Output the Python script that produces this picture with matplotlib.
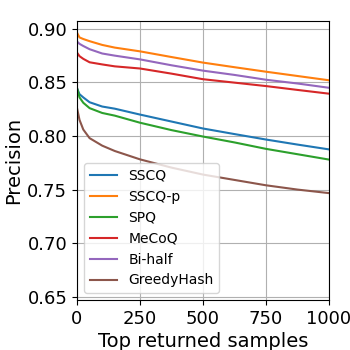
import matplotlib
matplotlib.use("Agg")
from matplotlib import pyplot as plt

# values
top_k = [1, 10, 25, 50, 100, 150, 250, 375, 500, 625, 750, 875, 1000]
sscq = [0.844, 0.839, 0.836, 0.8315, 0.8275, 0.8255, 0.820, 0.8135, 0.807, 0.8018, 0.7967, 0.792, 0.7875]
sscq_p = [0.896, 0.892, 0.8905, 0.8885, 0.885, 0.8825, 0.879, 0.8737, 0.8685, 0.8642, 0.860, 0.856, 0.852]
spq = [0.844, 0.836, 0.831, 0.826, 0.8215, 0.819, 0.8124, 0.8055, 0.7995, 0.794, 0.788, 0.783, 0.778]
mecoq = [0.8775, 0.8745, 0.872, 0.8688, 0.8668, 0.865, 0.863, 0.8582, 0.853, 0.8498, 0.8466, 0.843, 0.8395]
bihalf = [0.888, 0.886, 0.884, 0.881, 0.877, 0.875, 0.8715, 0.866, 0.861, 0.857, 0.8525, 0.849, 0.845]
greedy = [0.825, 0.815, 0.806, 0.798, 0.791, 0.786, 0.7782, 0.7705, 0.764, 0.759, 0.754, 0.750, 0.7467]

series = [("SSCQ", sscq), ("SSCQ-p", sscq_p), ("SPQ", spq),
          ("MeCoQ", mecoq), ("Bi-half", bihalf), ("GreedyHash", greedy)]

fig = plt.figure(figsize=(3.5, 3.5), dpi=100)
ax = fig.add_axes([0.22, 0.143, 0.72, 0.796])

for name, vals in series:
    ax.plot(top_k, vals, label=name, linewidth=1.5)

ax.set_xlim(0, 1000)
ax.set_ylim(0.647, 0.907)
ax.set_xticks([0, 250, 500, 750, 1000])
ax.set_yticks([0.65, 0.70, 0.75, 0.80, 0.85, 0.90])
ax.tick_params(labelsize=13)
ax.set_xlabel("Top returned samples", fontsize=14, labelpad=3)
ax.set_ylabel("Precision", fontsize=14, labelpad=3)
ax.grid(True, color="#b0b0b0")
ax.legend(loc="lower left", fontsize=10)

fig.savefig("out.png", dpi=100)
